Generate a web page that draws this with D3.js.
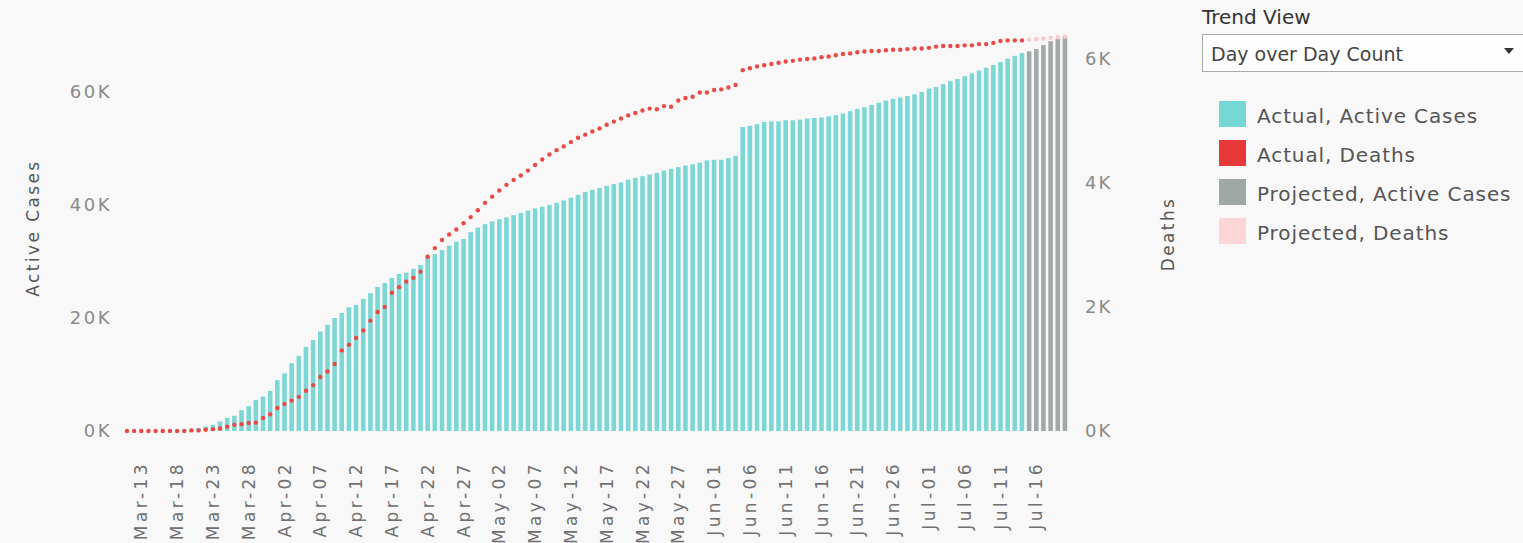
<!DOCTYPE html>
<html lang="en">
<head>
<meta charset="utf-8">
<title>Active Cases and Deaths</title>
<script src="https://d3js.org/d3.v7.min.js"></script>
<style>
  body { margin: 0; background: #f8f8f8; }
  svg { display: block; font-family: "DejaVu Sans", sans-serif; }
</style>
</head>
<body>
<svg id="chart" width="1523" height="543"></svg>
<script>

// first day on the chart, one value per day after it
var startDate = new Date(2020, 2, 11)

var activeCases = [
  10, 15, 25, 40, 60, 90, 130, 180, 250, 350, 500, 800, 1100, 1700,
  2300, 2700, 3700, 4400, 5500, 6100, 7100, 9000, 10200, 12000,
  13300, 14900, 16100, 17600, 18800, 20000, 20900, 21900, 22300, 23400,
  24400, 25500, 26200, 27100, 27800, 28000, 28700, 29400, 30900, 31300, 32000,
  32800, 33500, 34000, 35200, 36000, 36600, 37100, 37500, 37800, 38200,
  38600, 39000, 39400, 39700, 40000, 40400, 40800, 41300, 41800, 42300,
  42700, 43000, 43400, 43700, 44000, 44500, 44800, 45100,
  45400, 45700, 46100, 46400, 46700, 47000, 47200, 47500, 47900, 48000,
  48000, 48300, 48700, 53800, 54000, 54300, 54700, 54800, 54800, 55000, 55000,
  55100, 55300, 55400, 55500, 55700, 55900, 56200, 56600, 57000, 57300,
  57700, 58100, 58500, 58800,
  59000, 59300, 59600, 60000, 60600, 60900, 61400, 61900, 62300, 62800,
  63300, 63800, 64300, 64800, 65300, 65900, 66400, 66900
]

var deaths = [
  0, 0, 0, 0, 0, 0, 0, 0, 0, 10, 10, 20, 30,
  40, 70, 100, 110, 130, 135, 210, 270, 370, 435,
  490, 550, 650, 740, 870, 960, 1080, 1300, 1390, 1500,
  1620, 1780, 1920, 2000, 2230, 2320, 2410, 2470, 2570, 2810,
  2950, 3080, 3170, 3250, 3350, 3450, 3560, 3680, 3780, 3880,
  3970, 4050, 4120, 4200, 4290, 4380, 4460, 4530, 4590, 4660,
  4730, 4780, 4830, 4880, 4940, 4990, 5040, 5090, 5130, 5170,
  5200, 5190, 5240, 5230, 5330, 5370, 5390, 5460, 5460, 5500,
  5510, 5540, 5580, 5820, 5850, 5880, 5900, 5920, 5940, 5960, 5970,
  5990, 6000, 6010, 6030, 6040, 6060, 6080, 6090, 6110, 6120,
  6130, 6130, 6140, 6150, 6150, 6160, 6170, 6170, 6180, 6200,
  6210, 6210, 6210, 6220, 6220, 6240, 6240, 6260, 6290, 6300, 6300, 6300
]

// projection continues the day after the last actual value
var projectedActive = [67200, 67600, 68300, 69000, 69400, 69800]
var projectedDeaths = [6310, 6320, 6330, 6340, 6350, 6360]

var activeTicks = [0, 20000, 40000, 60000]
var deathTicks = [0, 2000, 4000, 6000]
var firstLabelDay = 2   // Mar-13, then every 5 days
var labelStep = 5

var legendLabels = ['Actual, Active Cases', 'Actual, Deaths', 'Projected, Active Cases', 'Projected, Deaths']
var legendColors = ['#74d6d5', '#e8393a', '#9fa7a7', '#fcd6d7']

var colors = {
  active: '#7cd7d6',
  deaths: '#e84a45',
  projActive: '#a3a9a9',
  projDeaths: '#f8c9ca'
}

var rows = activeCases.map(function (v, i) {
  return { date: d3.timeDay.offset(startDate, i), active: v, deaths: deaths[i], projected: false }
}).concat(projectedActive.map(function (v, i) {
  return { date: d3.timeDay.offset(startDate, activeCases.length + i), active: v, deaths: projectedDeaths[i], projected: true }
}))

var svg = d3.select('#chart')
var baseY = 431

var x = d3.scaleBand()
  .domain(rows.map(function (d) { return d.date }))
  .range([123.4, 1068.5])
  .paddingInner(0.36)
  .paddingOuter(0.18)

var yLeft = d3.scaleLinear().domain([0, 60000]).range([baseY, 92])
var yRight = d3.scaleLinear().domain([0, 6000]).range([baseY, 59])

var fmtK = function (d) { return (d / 1000) + 'K' }
var fmtDate = d3.timeFormat('%b-%d')

// bars
svg.append('g')
  .selectAll('rect')
  .data(rows)
  .enter().append('rect')
    .attr('x', function (d) { return x(d.date) })
    .attr('width', x.bandwidth())
    .attr('y', function (d) { return yLeft(d.active) })
    .attr('height', function (d) { return baseY - yLeft(d.active) })
    .attr('fill', function (d) { return d.projected ? colors.projActive : colors.active })

// death dots
svg.append('g')
  .selectAll('circle')
  .data(rows)
  .enter().append('circle')
    .attr('cx', function (d) { return x(d.date) + x.bandwidth() / 2 })
    .attr('cy', function (d) { return yRight(d.deaths) })
    .attr('r', 2.2)
    .attr('fill', function (d) { return d.projected ? colors.projDeaths : colors.deaths })

// left axis
var leftAxis = svg.append('g')
  .attr('transform', 'translate(112,0)')
  .call(d3.axisLeft(yLeft).tickValues(activeTicks).tickSize(0).tickPadding(0).tickFormat(fmtK))
leftAxis.select('.domain').remove()
leftAxis.attr('font-family', null).attr('font-size', 18)
leftAxis.selectAll('text').attr('fill', '#8a8a8a').style('letter-spacing', '2.5px')

// right axis
var rightAxis = svg.append('g')
  .attr('transform', 'translate(1085,0)')
  .call(d3.axisRight(yRight).tickValues(deathTicks).tickSize(0).tickPadding(0).tickFormat(fmtK))
rightAxis.select('.domain').remove()
rightAxis.attr('font-family', null).attr('font-size', 18)
rightAxis.selectAll('text').attr('fill', '#8a8a8a').style('letter-spacing', '2px')

// date axis, labels rotated
var labelDates = rows.filter(function (d, i) { return i >= firstLabelDay && (i - firstLabelDay) % labelStep === 0 })
  .map(function (d) { return d.date })

var dateAxis = svg.append('g')
  .attr('transform', 'translate(0,461)')
  .call(d3.axisBottom(x).tickValues(labelDates).tickSize(0).tickFormat(fmtDate))
dateAxis.select('.domain').remove()
dateAxis.attr('font-family', null).attr('font-size', 17)
dateAxis.selectAll('text')
  .attr('x', 0)
  .attr('y', 0)
  .attr('dy', '0.36em')
  .attr('transform', 'rotate(-90)')
  .attr('fill', '#707070')
  .style('text-anchor', 'end')
  .style('letter-spacing', '3.4px')

// axis titles
svg.append('text')
  .attr('transform', 'translate(39,228) rotate(-90)')
  .attr('text-anchor', 'middle')
  .attr('font-size', 17)
  .attr('fill', '#555')
  .style('letter-spacing', '2.4px')
  .text('Active Cases')

svg.append('text')
  .attr('transform', 'translate(1174,234) rotate(-90)')
  .attr('text-anchor', 'middle')
  .attr('font-size', 17)
  .attr('fill', '#555')
  .style('letter-spacing', '2.4px')
  .text('Deaths')

// trend view selector
svg.append('text')
  .attr('x', 1202)
  .attr('y', 24)
  .attr('font-size', 20)
  .attr('fill', '#333')
  .text('Trend View')

svg.append('rect')
  .attr('x', 1202.5)
  .attr('y', 34.5)
  .attr('width', 340)
  .attr('height', 37)
  .attr('fill', '#fefefe')
  .attr('stroke', '#a9a9a9')

svg.append('text')
  .attr('x', 1211)
  .attr('y', 61)
  .attr('font-size', 19)
  .attr('fill', '#444')
  .text('Day over Day Count')

svg.append('path')
  .attr('d', 'M1504,48 L1514,48 L1509,54 Z')
  .attr('fill', '#333')

// legend
var legend = svg.append('g')
  .selectAll('g')
  .data(legendLabels)
  .enter().append('g')
    .attr('transform', function (d, i) { return 'translate(1219,' + (101 + i * 39) + ')' })

legend.append('rect')
  .attr('width', 27)
  .attr('height', 26)
  .attr('fill', function (d, i) { return legendColors[i] })

legend.append('text')
  .attr('x', 38)
  .attr('y', 22)
  .attr('font-size', 20)
  .attr('fill', '#555')
  .style('letter-spacing', '0.9px')
  .text(function (d) { return d })

</script>
</body>
</html>
